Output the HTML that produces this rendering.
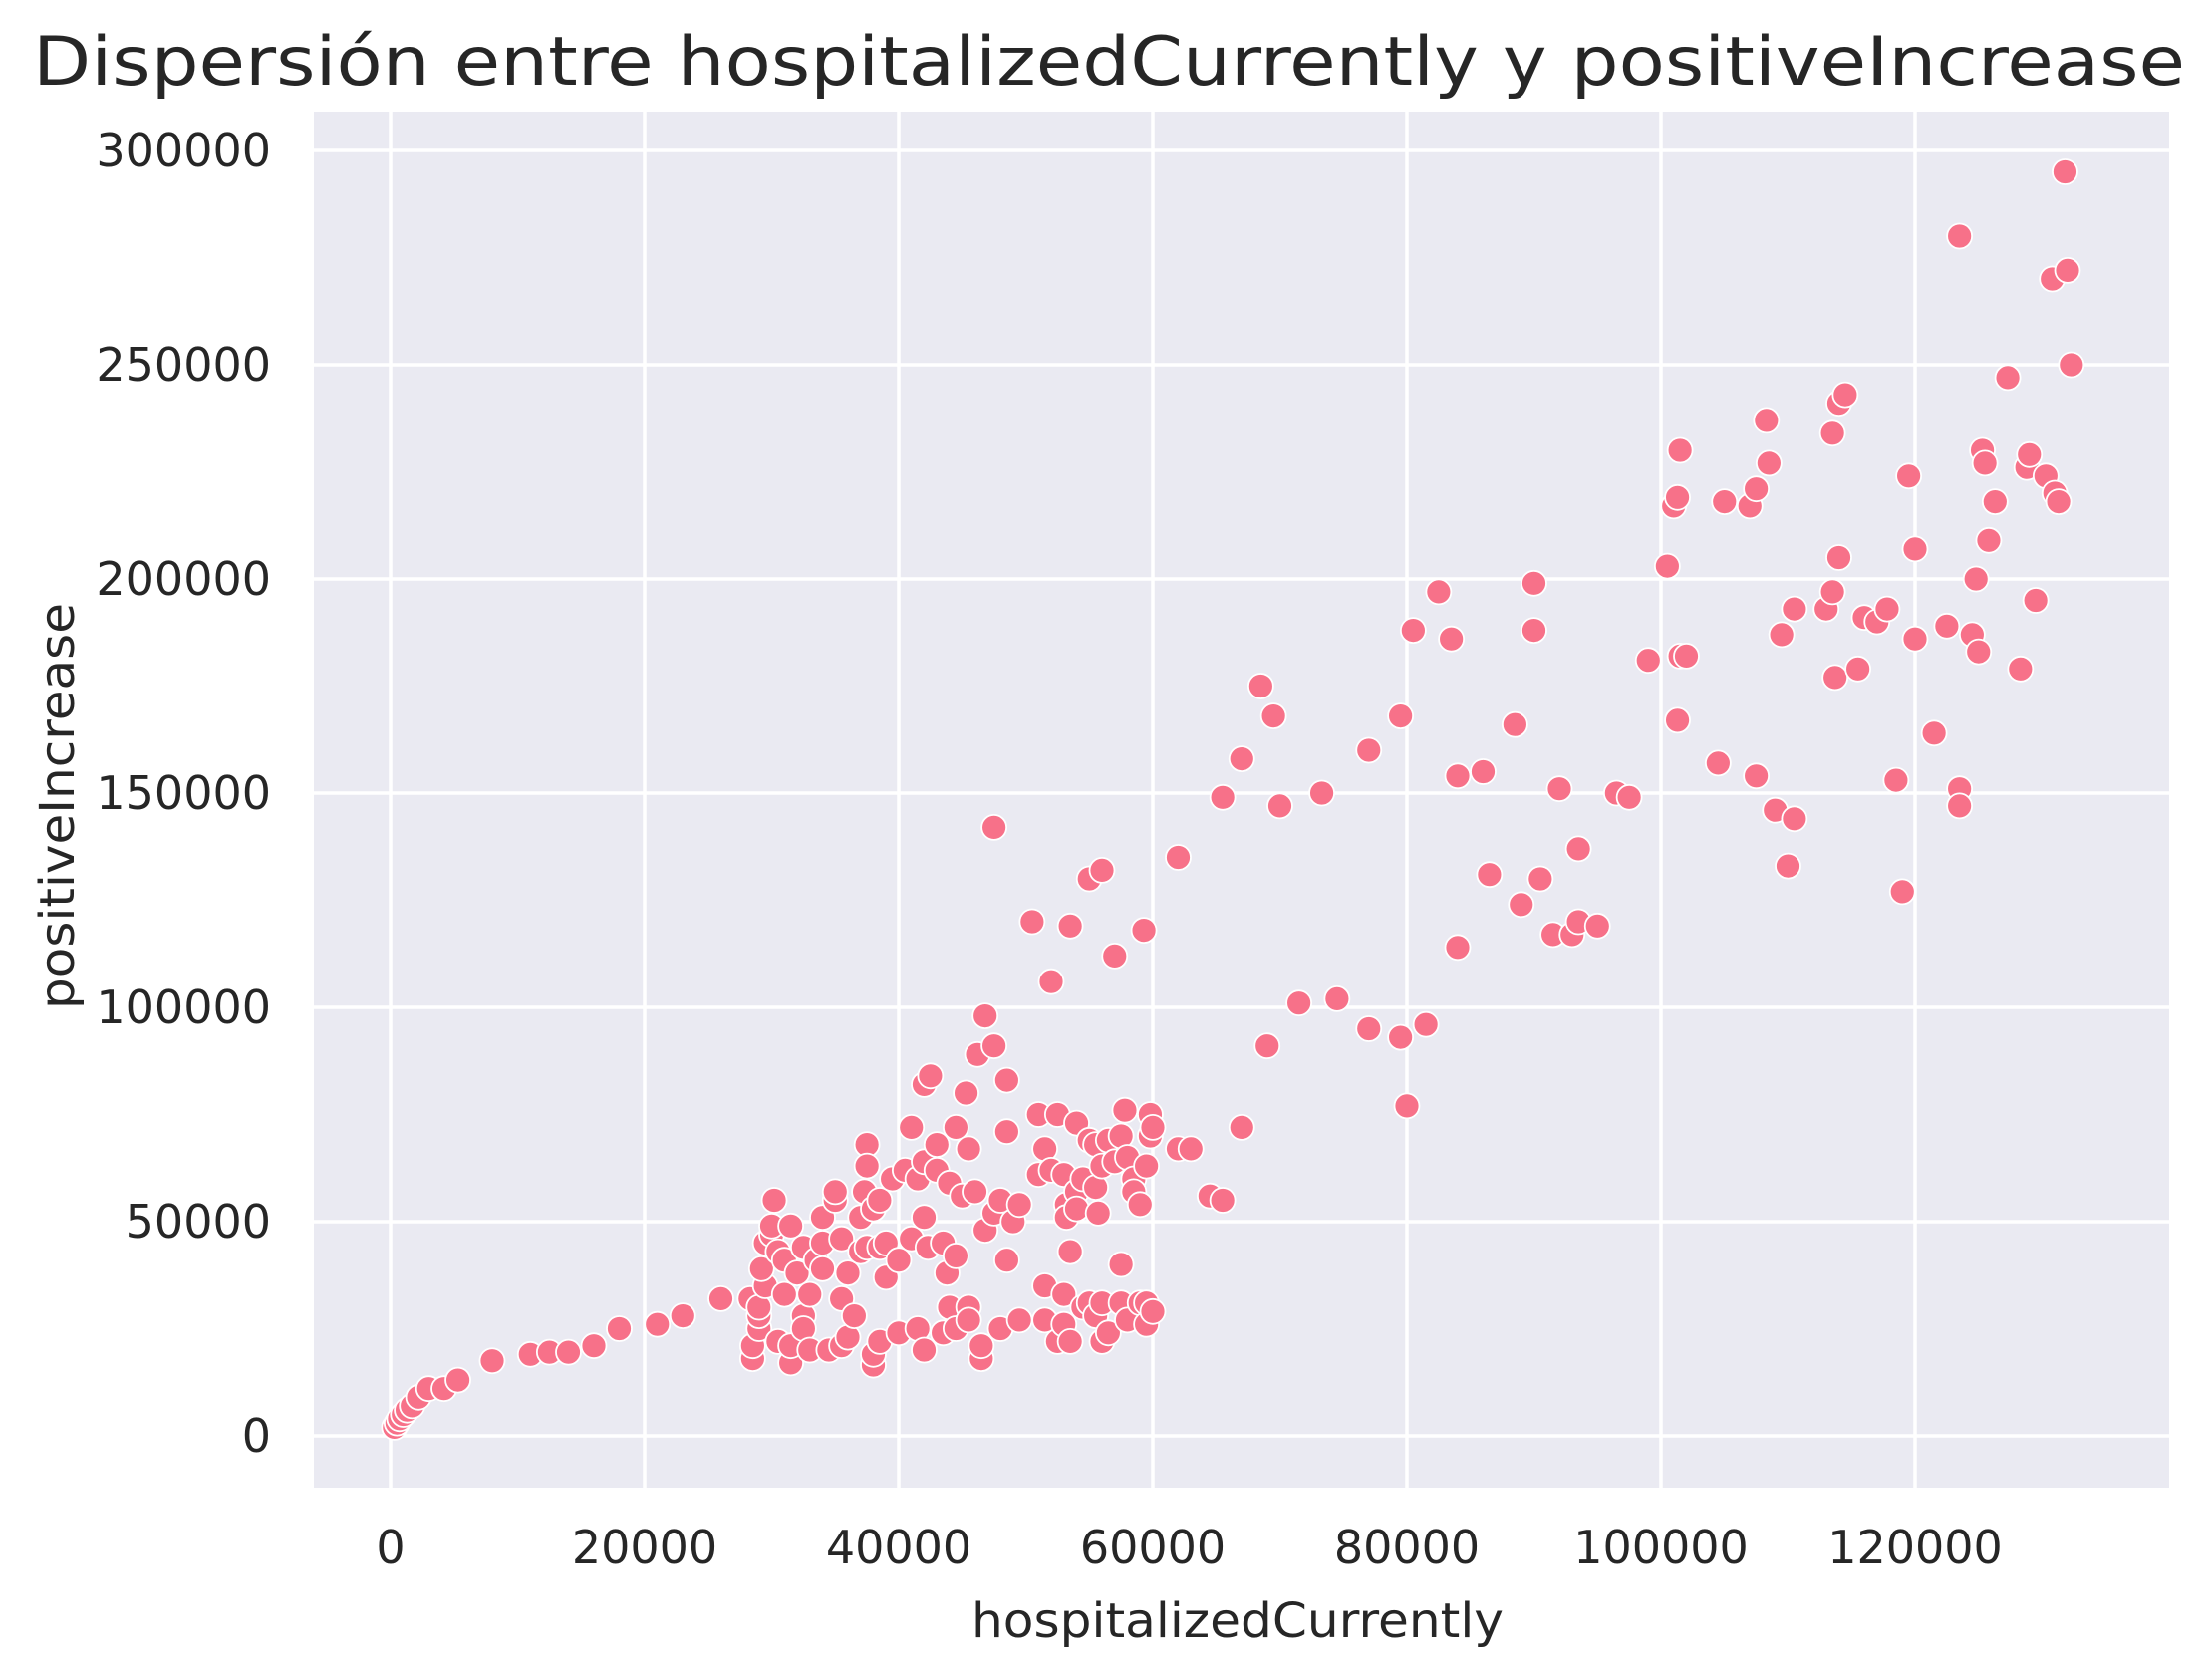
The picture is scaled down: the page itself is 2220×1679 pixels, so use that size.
<!DOCTYPE html>
<html><head><meta charset="utf-8"><style>
html,body{margin:0;padding:0;background:#fff;}
svg text{font-family:"DejaVu Sans","Liberation Sans",sans-serif;fill:#262626;}
</style></head><body>
<svg id="chart" width="2220" height="1674" viewBox="0 0 2220 1674" xmlns="http://www.w3.org/2000/svg">
<rect x="0" y="0" width="2220" height="1674" fill="#fff"/>
<rect x="315" y="112" width="1862" height="1381" fill="#eaeaf2"/>
<g id="grid"></g>
<g id="ticks"></g>
<g id="points"></g>
<text x="1113" y="85" font-size="68" text-anchor="middle" textLength="2160" lengthAdjust="spacingAndGlyphs">Dispersión entre hospitalizedCurrently y positiveIncrease</text>
<text x="1242" y="1643" font-size="48" text-anchor="middle" textLength="534" lengthAdjust="spacingAndGlyphs">hospitalizedCurrently</text>
<text x="74" y="809" font-size="48" text-anchor="middle" textLength="408" lengthAdjust="spacingAndGlyphs" transform="rotate(-90 74 809)">positiveIncrease</text>
</svg>
<script>
const xTicks=[0,20000,40000,60000,80000,100000,120000];
const yTicks=[0,50000,100000,150000,200000,250000,300000];
const xVals=[0.3,0.5,0.7,1,1.3,1.7,2.2,3,4.2,5.3,8,11,12.5,14,16,18,21,23,26,
28.5,28.5,28.3,29,29,29,29.5,29.2,29.5,30,30,30.2,30.5,30.5,31,31,31.5,31.5,31.5,32,32.5,32.5,32.5,33,33,33.5,34,34,34,34.5,35,35,35.5,35.5,35.5,36,36,36.5,37,37,37.3,37.5,37.5,37.5,38,38,38,38.5,38.5,38.5,39,39,39.5,40,40,40.5,41,41,41.5,41.5,42,42,42,42,42.3,42.5,43,43,43.5,43.5,43.8,44,44,44.5,44.5,44.5,45,45.3,45.5,45.5,45.5,46,46.2,46.5,46.5,46.8,46.8,47.5,47.5,47.5,48,48,48.5,48.5,48.5,49,49.5,49.5,50.5,51,51,51.5,51.5,51.5,52,52,52.5,52.5,53,53,53,53.2,53.2,53.5,53.5,53.5,54,54,54,54.5,54.5,55,55,55,55.5,55.5,55.5,55.7,56,56,56,56,56.5,56.5,57,57,57.5,57.5,57.5,57.8,58,58,58.5,58.5,59,59,59.3,59.5,59.5,59.5,59.8,59.8,60,60,
62,62,63,64.5,65.5,65.5,67,67,68.5,69,69.5,70,71.5,73.3,74.5,77,77,79.5,79.5,80,80.5,81.5,82.5,83.5,84,84,86,86.5,88.5,89,90,90,90.5,91.5,92,93,93.5,93.5,95,96.5,97.5,99,100.5,101,101.3,101.3,101.5,101.5,102,104.5,105,107,107.5,107.5,108.3,108.5,109,109.5,110,110.5,110.5,113,113.5,113.5,113.7,114,114,114.5,115.5,116,117,117.8,118.5,119,119.5,120,120,121.5,122.5,123.5,123.5,123.5,124.5,124.8,125,125.3,125.5,125.8,126.3,127.3,128.3,128.8,129,129.5,130.3,130.8,131,131.3,131.8,132,132.3];
const yVals=[2,3,4,5,6,7,9,11,11,13,17.5,19,19.5,19.5,21,25,26,28,32,
18,21,32,25,28,30,35,39,45,47,49,55,43,22,33,41,49,17,21,38,44,28,25,33,20,41,51,45,39,20,55,57,46,32,21,38,23,28,51,43,57,68,63,44,53,16.5,19,55,44,22,37,45,60,41,24,62,46,72,25,60,82,64,51,20,44,84,68,62,45,24,38,59,30,72,42,25,56,80,67,30,27,57,89,18,21,98,48,91,52,142,55,25,83,41,71,50,27,54,120,75,61,35,27,67,106,62,22,75,61,33,26,54,51,119,43,22,73,57,53,30,60,130,31,69,68,58,28,52,132,63,31,22,69,24,112,64,70,40,31,76,65,27,60,57,31,54,118,63,31,26,75,70,72,29,
135,67,67,56,55,149,72,158,175,91,168,147,101,150,102,160,95,93,168,77,188,96,197,186,154,114,155,131,166,124,199,188,130,117,151,117,137,120,119,150,149,181,203,217,167,219,230,182,182,157,218,217,221,154,237,227,146,187,133,144,193,193,234,197,177,241,205,243,179,191,190,193,153,127,224,186,207,164,189,280,151,147,187,200,183,230,227,209,218,247,179,226,229,195,224,270,220,218,295,272,250];
const NS='http://www.w3.org/2000/svg';
const PL=315,PR=2177,PT=112,PB=1493;
const X0=392,XPER=255/20000;
const Y0=1441,YPER=1290/300000;
function sx(v){return X0+v*XPER;}
function sy(v){return Y0-v*YPER;}
const grid=document.getElementById('grid'),ticks=document.getElementById('ticks'),pts=document.getElementById('points');
xTicks.forEach(t=>{
  const l=document.createElementNS(NS,'line');
  l.setAttribute('x1',sx(t));l.setAttribute('x2',sx(t));l.setAttribute('y1',PT);l.setAttribute('y2',PB);
  l.setAttribute('stroke','#fff');l.setAttribute('stroke-width','3.5');
  
  
  grid.appendChild(l);
  const tx=document.createElementNS(NS,'text');
  tx.setAttribute('x',sx(t));tx.setAttribute('y',1569);tx.setAttribute('font-size','46');tx.setAttribute('text-anchor','middle');
  tx.textContent=t;
  
  
  ticks.appendChild(tx);
});
yTicks.forEach(t=>{
  const l=document.createElementNS(NS,'line');
  l.setAttribute('y1',sy(t));l.setAttribute('y2',sy(t));l.setAttribute('x1',PL);l.setAttribute('x2',PR);
  l.setAttribute('stroke','#fff');l.setAttribute('stroke-width','3.5');
  
  
  grid.appendChild(l);
  const tx=document.createElementNS(NS,'text');
  tx.setAttribute('x',272);tx.setAttribute('y',sy(t)+16);tx.setAttribute('font-size','46');tx.setAttribute('text-anchor','end');
  tx.textContent=t;
  
  
  ticks.appendChild(tx);
});
for(let i=0;i<xVals.length;i++){
  const c=document.createElementNS(NS,'circle');
  c.setAttribute('cx',sx(xVals[i]*1000));c.setAttribute('cy',sy(yVals[i]*1000));c.setAttribute('r','12.5');
  c.setAttribute('fill','#f77189');c.setAttribute('stroke','#fff');c.setAttribute('stroke-width','1.8');
  
  
  pts.appendChild(c);
}
</script>
</body></html>
